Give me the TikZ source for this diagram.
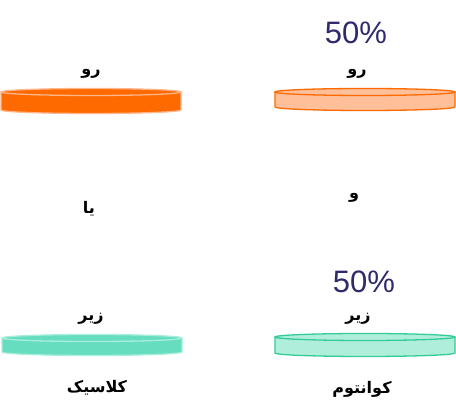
\documentclass[tikz,border=0pt]{standalone}
\usepackage{fontspec}
\setmainfont{Liberation Sans}
\newfontfamily\arabicfont[Script=Arabic]{DejaVu Sans}
\TeXXeTstate=1
\definecolor{oDark}{HTML}{FF6A00}
\definecolor{oEdge}{HTML}{FFB58A}
\definecolor{oLight}{HTML}{FFBF99}
\definecolor{tDark}{HTML}{66DDBF}
\definecolor{tEdge}{HTML}{A8EEDA}
\definecolor{tLight}{HTML}{B0EEDC}
\definecolor{tStroke}{HTML}{33CC99}
\definecolor{navy}{HTML}{2E2A6B}
\newcommand{\mydisk}[6]{%
  \pgfmathsetmacro{\rx}{(#2-#1)/2}
  \pgfmathsetmacro{\cx}{(#2+#1)/2}
  \fill[#5] (#1,#3) -- (#1,#4) arc[start angle=180,end angle=360,x radius=\rx,y radius=3.5] -- (#2,#3) -- cycle;
  \fill[#5] (\cx,#3) ellipse[x radius=\rx,y radius=3.5];
  \draw[#6,line width=1.3pt] (#1,#3) -- (#1,#4) arc[start angle=180,end angle=360,x radius=\rx,y radius=3.5] -- (#2,#3);
  \draw[#6,line width=1.3pt] (\cx,#3) ellipse[x radius=\rx,y radius=3.5];
}
\tikzset{
  lbl/.style={inner sep=0pt,font=\arabicfont\bfseries\fontsize{16}{18}\selectfont},
  pct/.style={inner sep=0pt,text=navy,font=\fontsize{31}{34}\selectfont}
}
\begin{document}
\begin{tikzpicture}[x=1pt,y=1pt]
\useasboundingbox (0,0) rectangle (456,414);
\mydisk{1}{181}{322}{304}{oDark}{oEdge}
\mydisk{275}{455}{322}{307}{oLight}{oDark}
\mydisk{2}{182}{76}{62}{tDark}{tEdge}
\mydisk{275}{455}{77}{61}{tLight}{tStroke}
\node[pct] (p1) at (356,381) {50\%};
\node[pct] (p2) at (364,132) {50\%};
\node[lbl] (r1) at (91,340) {\beginR رو\endR};
\node[lbl] (r2) at (357,340) {\beginR رو\endR};
\node[lbl] (ya) at (89,205) {\beginR یا\endR};
\node[lbl] (va) at (354,216) {\beginR و\endR};
\node[lbl] (z1) at (91,95) {\beginR زیر\endR};
\node[lbl] (z2) at (358,95) {\beginR زیر\endR};
\node[lbl] (cl) at (97,26) {\beginR کلاسیک\endR};
\node[lbl] (qu) at (362,25) {\beginR کوانتوم\endR};
\end{tikzpicture}
\end{document}
